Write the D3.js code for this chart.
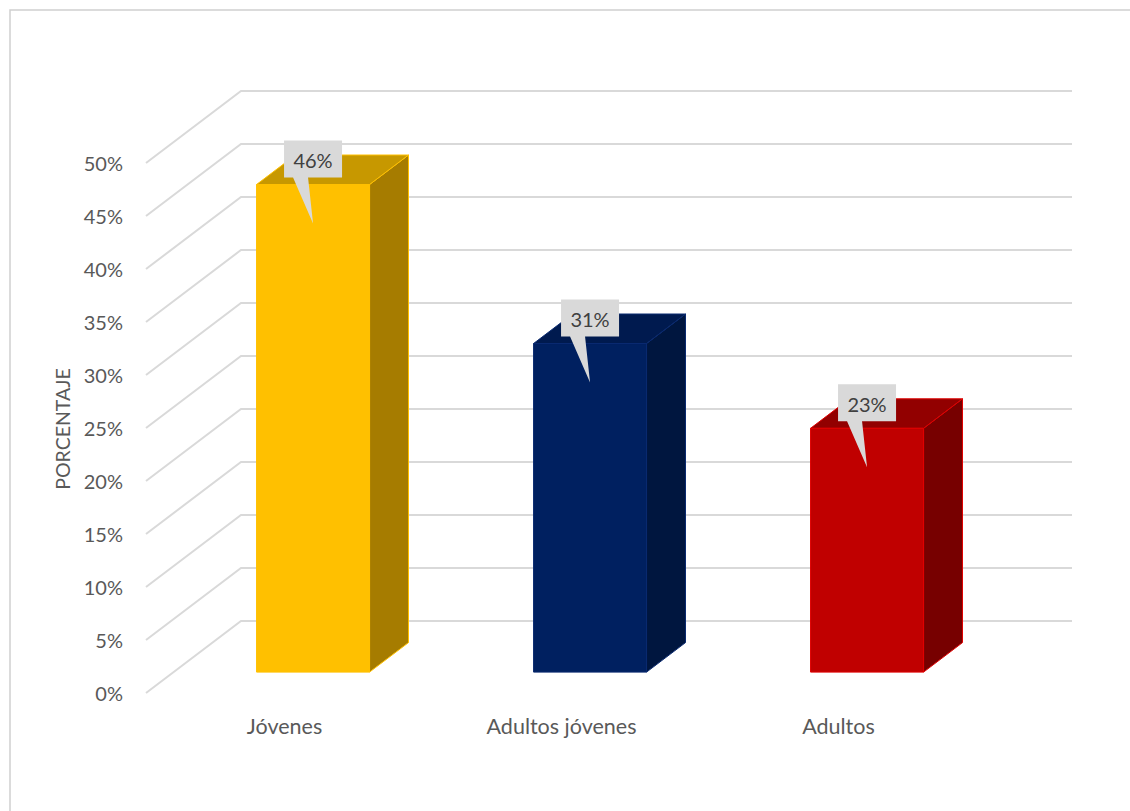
<!DOCTYPE html>
<html>
<head>
<meta charset="utf-8">
<script src="https://cdn.jsdelivr.net/npm/d3@7"></script>
<style>
  html, body { margin: 0; padding: 0; background: #fff; }
  svg { display: block; }
  text { font-family: Lato, "Open Sans", sans-serif; }
</style>
</head>
<body>
<svg id="chart" width="1130" height="811"></svg>
<script>
// ---- data ----
const categories = ["Jóvenes", "Adultos jóvenes", "Adultos"];
const values = [46, 31, 23];
const valueLabels = ["46%", "31%", "23%"];
const tickValues = [0, 5, 10, 15, 20, 25, 30, 35, 40, 45, 50];
const tickLabels = ["0%", "5%", "10%", "15%", "20%", "25%", "30%", "35%", "40%", "45%", "50%"];
const axisTitle = "PORCENTAJE";
const frontColors = ["#FFC000", "#002060", "#C00000"];
const topColors = ["#C79800", "#001A4F", "#920000"];
const sideColors = ["#A67C00", "#00163F", "#770000"];
const edgeColors = ["#FFC000", "#0A2A70", "#E00000"];

// ---- layout ----
const svg = d3.select("#chart");
const depthDX = 95, depthDY = -72;     // projection of full depth
const x = d3.scaleBand().domain(categories).range([146, 977]).paddingInner(0).paddingOuter(0);
const y = d3.scaleLinear().domain([0, 50]).range([693, 163]);
const barWidthFrac = 113 / 277;
const t0 = 0.29, t1 = 0.70;            // bar depth span

function P(xf, v, t) { return [xf + depthDX * t, y(v) + depthDY * t]; }

// chart border
svg.append("path")
  .attr("d", "M10,830 L10,10 L1140,10")
  .attr("fill", "none").attr("stroke", "#D0D0D0").attr("stroke-width", 1.5);

// gridlines
const grid = svg.append("g");
tickValues.forEach(v => {
  const a = P(146, v, 0), b = P(146, v, 1);
  grid.append("polyline")
    .attr("points", [a, b, [1072, b[1]]].map(p => p.join(",")).join(" "))
    .attr("fill", "none").attr("stroke", "#D9D9D9").attr("stroke-width", 2);
});

// y tick labels
svg.append("g").selectAll("text").data(tickValues).join("text")
  .attr("x", 123).attr("y", d => y(d))
  .attr("text-anchor", "end").attr("dominant-baseline", "central")
  .attr("fill", "#595959").attr("font-size", 20)
  .text((d, i) => tickLabels[i]);

// axis title
svg.append("text")
  .attr("transform", "translate(62,429) rotate(-90)")
  .attr("text-anchor", "middle").attr("dominant-baseline", "central")
  .attr("fill", "#595959").attr("font-size", 19.5)
  .text(axisTitle);

// bars
const bars = svg.append("g");
categories.forEach((c, i) => {
  const bw = x.bandwidth() * barWidthFrac;
  const xl = x(c) + (x.bandwidth() - bw) / 2 + 1;
  const xr = xl + bw;
  const v = values[i];
  const fbl = P(xl, 0, t0), fbr = P(xr, 0, t0), ftl = P(xl, v, t0), ftr = P(xr, v, t0);
  const bbr = P(xr, 0, t1), btl = P(xl, v, t1), btr = P(xr, v, t1);
  const pts = arr => arr.map(p => p.join(",")).join(" ");
  // side
  bars.append("polygon").attr("points", pts([fbr, bbr, btr, ftr]))
    .attr("fill", sideColors[i]).attr("stroke", edgeColors[i]).attr("stroke-width", 1);
  // top
  bars.append("polygon").attr("points", pts([ftl, ftr, btr, btl]))
    .attr("fill", topColors[i]).attr("stroke", edgeColors[i]).attr("stroke-width", 1);
  // front
  bars.append("polygon").attr("points", pts([fbl, fbr, ftr, ftl]))
    .attr("fill", frontColors[i]).attr("stroke", edgeColors[i]).attr("stroke-width", 1);

  // callout label
  const cx = (xl + xr) / 2 + depthDX * t0;
  const topY = ftl[1];
  const boxW = 58, boxH = 37;
  const bx = cx - boxW / 2, by = topY - 7 - boxH;
  const tipX = cx, tipY = topY + 39;
  const g = svg.append("g");
  g.append("path")
    .attr("d", `M${bx},${by} H${bx + boxW} V${by + boxH} H${bx + 24} L${tipX},${tipY} L${bx + 9},${by + boxH} H${bx} Z`)
    .attr("fill", "#D9D9D9");
  g.append("text")
    .attr("x", bx + boxW / 2).attr("y", by + boxH / 2 + 1)
    .attr("text-anchor", "middle").attr("dominant-baseline", "central")
    .attr("fill", "#404040").attr("font-size", 20)
    .text(valueLabels[i]);
});

// category labels
svg.append("g").selectAll("text").data(categories).join("text")
  .attr("x", d => x(d) + x.bandwidth() / 2).attr("y", 726)
  .attr("text-anchor", "middle").attr("dominant-baseline", "central")
  .attr("fill", "#595959").attr("font-size", 21.5)
  .text(d => d);
</script>
</body>
</html>
